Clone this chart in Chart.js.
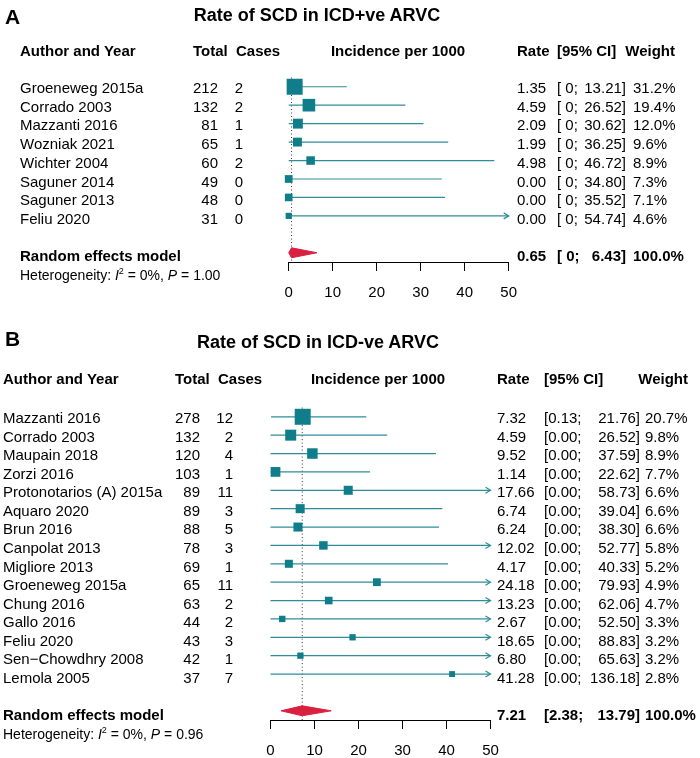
<!DOCTYPE html>
<html>
<head>
<meta charset="utf-8">
<script src="https://cdn.jsdelivr.net/npm/chart.js@4.4.1/dist/chart.umd.min.js"></script>
<style>
  html, body { margin: 0; padding: 0; background: #fff; }
  body { width: 700px; height: 758px; position: relative; overflow: hidden;
         font-family: "Liberation Sans", Arial, Helvetica, sans-serif; color: #000; }
  canvas { position: absolute; left: 0; }
  .t { position: absolute; white-space: pre; font-size: 15px; line-height: 1; transform: translateY(-50%); z-index: 2; }
  .r { transform: translate(-100%, -50%); }
  .c { transform: translate(-50%, -50%); }
  .b { font-weight: bold; }
</style>
</head>
<body>
<canvas id="chartA" width="700" height="315" style="top:0px"></canvas>
<canvas id="chartB" width="700" height="473" style="top:300px"></canvas>
<script>
// ---- panel A: ICD+ve ----
const studiesA = ["Groeneweg 2015a", "Corrado 2003", "Mazzanti 2016", "Wozniak 2021",
                  "Wichter 2004", "Saguner 2014", "Saguner 2013", "Feliu 2020"];
const totalA = [212, 132, 81, 65, 60, 49, 48, 31];
const casesA = [2, 2, 1, 1, 2, 0, 0, 0];
const rateA = [1.35, 4.59, 2.09, 1.99, 4.98, 0.00, 0.00, 0.00];
const lowerA = [0, 0, 0, 0, 0, 0, 0, 0];
const upperA = [13.21, 26.52, 30.62, 36.25, 46.72, 34.80, 35.52, 54.74];
const weightA = [31.2, 19.4, 12.0, 9.6, 8.9, 7.3, 7.1, 4.6];
const pooledA = [0.65, 0, 6.43]; // rate, lower, upper
const hetA = "1.00";

// ---- panel B: ICD-ve ----
const studiesB = ["Mazzanti 2016", "Corrado 2003", "Maupain 2018", "Zorzi 2016",
                  "Protonotarios (A) 2015a", "Aquaro 2020", "Brun 2016", "Canpolat 2013",
                  "Migliore 2013", "Groeneweg 2015a", "Chung 2016", "Gallo 2016",
                  "Feliu 2020", "Sen\u2212Chowdhry 2008", "Lemola 2005"];
const totalB = [278, 132, 120, 103, 89, 89, 88, 78, 69, 65, 63, 44, 43, 42, 37];
const casesB = [12, 2, 4, 1, 11, 3, 5, 3, 1, 11, 2, 2, 3, 1, 7];
const rateB = [7.32, 4.59, 9.52, 1.14, 17.66, 6.74, 6.24, 12.02, 4.17, 24.18, 13.23, 2.67, 18.65, 6.80, 41.28];
const lowerB = [0.13, 0, 0, 0, 0, 0, 0, 0, 0, 0, 0, 0, 0, 0, 0];
const upperB = [21.76, 26.52, 37.59, 22.62, 58.73, 39.04, 38.30, 52.77, 40.33, 79.93, 62.06, 52.50, 88.83, 65.63, 136.18];
const weightB = [20.7, 9.8, 8.9, 7.7, 6.6, 6.6, 6.6, 5.8, 5.2, 4.9, 4.7, 3.3, 3.2, 3.2, 2.8];
const pooledB = [7.21, 2.38, 13.79];
const hetB = "0.96";

const xTicks = [0, 10, 20, 30, 40, 50];
const XMAX = 50;

const SQUARE = '#0F7E8A';
const LINE = '#2F8D98';
const DIAMOND = '#D9203F';

function addText(str, x, y, cls, extra) {
    const d = document.createElement('div');
    d.className = 't ' + (cls || '');
    d.style.left = x + 'px';
    d.style.top = y + 'px';
    if (extra) Object.assign(d.style, extra);
    d.innerHTML = str;
    document.body.appendChild(d);
    return d;
}

// arrows for CIs running past the axis end
const arrowPlugin = {
    id: 'arrows',
    afterDatasetsDraw(chart, args, opts) {
        const ctx = chart.ctx;
        const xs = chart.scales.x, ys = chart.scales.y;
        ctx.save();
        ctx.strokeStyle = LINE;
        ctx.lineWidth = 1.2;
        opts.upper.forEach((u, i) => {
            if (u <= XMAX) return;
            const px = xs.getPixelForValue(XMAX);
            const py = ys.getPixelForValue(i + 1);
            ctx.beginPath();
            ctx.moveTo(px - 5, py - 3);
            ctx.lineTo(px, py);
            ctx.lineTo(px - 5, py + 3);
            ctx.stroke();
        });
        ctx.restore();
    }
};

function makePanel(canvasId, rate, lower, upper, weight, pooled, cfg) {
    const n = rate.length;
    const maxW = Math.max(...weight);
    const datasets = [];

    // squares (drawn on top)
    datasets.push({
        data: rate.map((r, i) => ({ x: r, y: i + 1 })),
        showLine: false,
        clip: false,
        pointStyle: 'rect',
        pointRadius: weight.map(w => 16 * Math.sqrt(w / maxW) / Math.SQRT2),
        backgroundColor: SQUARE,
        borderColor: SQUARE,
        borderWidth: 0,
        order: 0
    });

    // pooled diamond
    const pr = n + 2, h = 0.27;
    datasets.push({
        data: [{ x: pooled[1], y: pr }, { x: pooled[0], y: pr - h }, { x: pooled[2], y: pr },
               { x: pooled[0], y: pr + h }, { x: pooled[1], y: pr }],
        showLine: true,
        clip: false,
        fill: 'shape',
        backgroundColor: DIAMOND,
        borderColor: DIAMOND,
        borderWidth: 1,
        pointRadius: 0,
        tension: 0,
        order: 1
    });

    // confidence intervals
    for (let i = 0; i < n; i++) {
        datasets.push({
            data: [{ x: lower[i], y: i + 1 }, { x: Math.min(upper[i], XMAX), y: i + 1 }],
            showLine: true,
            clip: false,
            borderColor: LINE,
            borderWidth: 1.2,
            pointRadius: 0,
            order: 2
        });
    }

    // dotted line at pooled estimate
    datasets.push({
        data: [{ x: pooled[0], y: 0.5 }, { x: pooled[0], y: cfg.ymax }],
        showLine: true,
        borderColor: '#333',
        borderWidth: 1,
        borderDash: [1, 2.5],
        pointRadius: 0,
        order: 3
    });

    return new Chart(document.getElementById(canvasId), {
        type: 'scatter',
        data: { datasets },
        options: {
            responsive: false,
            animation: false,
            events: [],
            layout: { padding: { left: cfg.left, right: 700 - cfg.right, top: cfg.top, bottom: 0 } },
            plugins: { legend: { display: false }, tooltip: { enabled: false }, arrows: { upper } },
            scales: {
                x: {
                    type: 'linear', min: 0, max: XMAX,
                    afterBuildTicks: s => { s.ticks = xTicks.map(v => ({ value: v })); },
                    ticks: { color: '#000', padding: 13, font: { size: 15, family: '"Liberation Sans", Arial, sans-serif' } },
                    grid: { drawOnChartArea: false, drawTicks: true, tickLength: 9, tickColor: '#000', tickWidth: 1 },
                    border: { display: true, color: '#000', width: 1 }
                },
                y: { type: 'linear', display: false, reverse: true, min: 0, max: cfg.ymax }
            }
        },
        plugins: [arrowPlugin]
    });
}

makePanel('chartA', rateA, lowerA, upperA, weightA, pooledA,
          { left: 288.7, right: 508.7, top: 68.3, ymax: 10.5 });
makePanel('chartB', rateB, lowerB, upperB, weightB, pooledB,
          { left: 270.5, right: 490.5, top: 98.4, ymax: 17.5 });

// ---- table text ----
function fillTable(p) {
    addText(p.letter, 5, p.letterY, 'b', { fontSize: '21px' });
    addText(p.title, p.titleX, p.titleY, 'b c', { fontSize: '18px' });
    const hy = p.headY;
    addText('Author and Year', p.nameX, hy, 'b');
    addText('Total', p.totalHX, hy, 'b');
    addText('Cases', p.casesHX, hy, 'b');
    addText('Incidence per 1000', p.incX, hy, 'b c');
    addText('Rate', p.rateX, hy, 'b');
    addText('[95% CI]', p.ciX, hy, 'b');
    addText('Weight', p.weightHR, hy, 'b r');
    p.studies.forEach((s, i) => {
        const y = p.row0 + i * p.step;
        addText(s, p.nameX, y);
        addText(String(p.total[i]), p.totalR, y, 'r');
        addText(String(p.cases[i]), p.casesR, y, 'r');
        addText(p.rate[i].toFixed(2), p.rateX, y);
        addText(p.lowFmt(p.lower[i]), p.ciX, y);
        addText(p.upper[i].toFixed(2) + ']', p.ciR, y, 'r');
        addText(p.weight[i].toFixed(1) + '%', p.weightX, y);
    });
    const ry = p.row0 + (p.studies.length + 1) * p.step;
    addText('Random effects model', p.nameX, ry, 'b');
    addText(p.pooled[0].toFixed(2), p.rateX, ry, 'b');
    addText(p.lowFmt(p.pooled[1]), p.ciX, ry, 'b');
    addText(p.pooled[2].toFixed(2) + ']', p.ciR, ry, 'b r');
    addText('100.0%', p.weightX, ry, 'b');
    addText('Heterogeneity: <i>I</i><sup style="font-size:9px;vertical-align:6px">2</sup> = 0%, <i>P</i> = ' + p.het,
            p.nameX, ry + 19, '', { fontSize: '14px' });
}

fillTable({
    letter: 'A', letterY: 16, title: 'Rate of SCD in ICD+ve ARVC', titleX: 317, titleY: 15,
    headY: 50, nameX: 20, totalHX: 193, casesHX: 236, incX: 398, rateX: 517, ciX: 557, weightHR: 675,
    row0: 87, step: 18.71, totalR: 218, casesR: 243, ciR: 626, weightX: 633,
    studies: studiesA, total: totalA, cases: casesA, rate: rateA, lower: lowerA, upper: upperA,
    weight: weightA, pooled: pooledA, het: hetA, lowFmt: v => '[ ' + v.toFixed(0) + ';'
});

fillTable({
    letter: 'B', letterY: 338, title: 'Rate of SCD in ICD-ve ARVC', titleX: 318, titleY: 342,
    headY: 378, nameX: 3, totalHX: 175, casesHX: 218, incX: 378, rateX: 497, ciX: 544, weightHR: 688,
    row0: 417, step: 18.57, totalR: 200, casesR: 233, ciR: 640, weightX: 645,
    studies: studiesB, total: totalB, cases: casesB, rate: rateB, lower: lowerB, upper: upperB,
    weight: weightB, pooled: pooledB, het: hetB, lowFmt: v => '[' + v.toFixed(2) + ';'
});
</script>
</body>
</html>
